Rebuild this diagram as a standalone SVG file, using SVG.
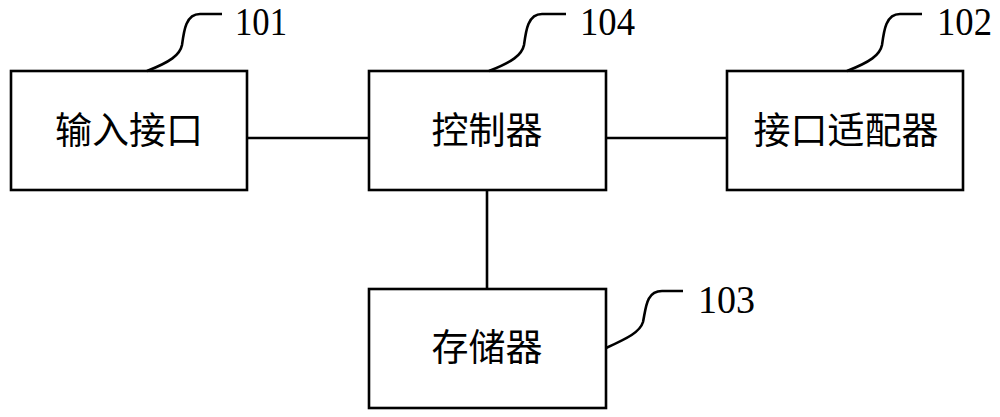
<svg xmlns="http://www.w3.org/2000/svg" width="1000" height="417" viewBox="0 0 1000 417">
<style>
.box{fill:#fff;stroke:#000;stroke-width:2.6}
.ln{fill:none;stroke:#000;stroke-width:2.6}
.lbl{font-family:"Noto Sans CJK SC","Liberation Serif",serif;font-size:37px;text-anchor:middle;fill:#000}
.num{font-family:"Liberation Serif",serif;font-size:40px;fill:#000}
</style>
<rect width="1000" height="417" fill="#fff"/>
<g id="connectors">
<line class="ln" x1="247" y1="138" x2="369" y2="138"/>
<line class="ln" x1="606" y1="138" x2="727" y2="138"/>
<line class="ln" x1="487" y1="190" x2="487" y2="289"/>
</g>
<g id="node101">
<rect class="box" x="11" y="71" width="236" height="119"/>
<text class="lbl" x="129" y="144">输入接口</text>
<path class="ln" d="M147,71 C170,62 180,55 182,45 C184,30 186,14 200,14 L222,14"/>
<text class="num" x="235" y="35" textLength="52" lengthAdjust="spacingAndGlyphs">101</text>
</g>
<g id="node104">
<rect class="box" x="369" y="71" width="237" height="119"/>
<text class="lbl" x="487" y="144">控制器</text>
<path class="ln" d="M489,71 C512,62 522,55 524,45 C526,30 528,14 542,14 L566,14"/>
<text class="num" x="580" y="35" textLength="55" lengthAdjust="spacingAndGlyphs">104</text>
</g>
<g id="node102">
<rect class="box" x="727" y="71" width="236" height="119"/>
<text class="lbl" x="846" y="144">接口适配器</text>
<path class="ln" d="M847,71 C870,62 880,55 882,45 C884,30 886,14 900,14 L922,14"/>
<text class="num" x="937" y="35" textLength="55" lengthAdjust="spacingAndGlyphs">102</text>
</g>
<g id="node103">
<rect class="box" x="369" y="289" width="237" height="119"/>
<text class="lbl" x="487" y="361">存储器</text>
<path class="ln" d="M606,348 C628,338 640,332 643,322 C646,308 646,291 662,291 L683,291"/>
<text class="num" x="698" y="313" textLength="57" lengthAdjust="spacingAndGlyphs">103</text>
</g>
</svg>
